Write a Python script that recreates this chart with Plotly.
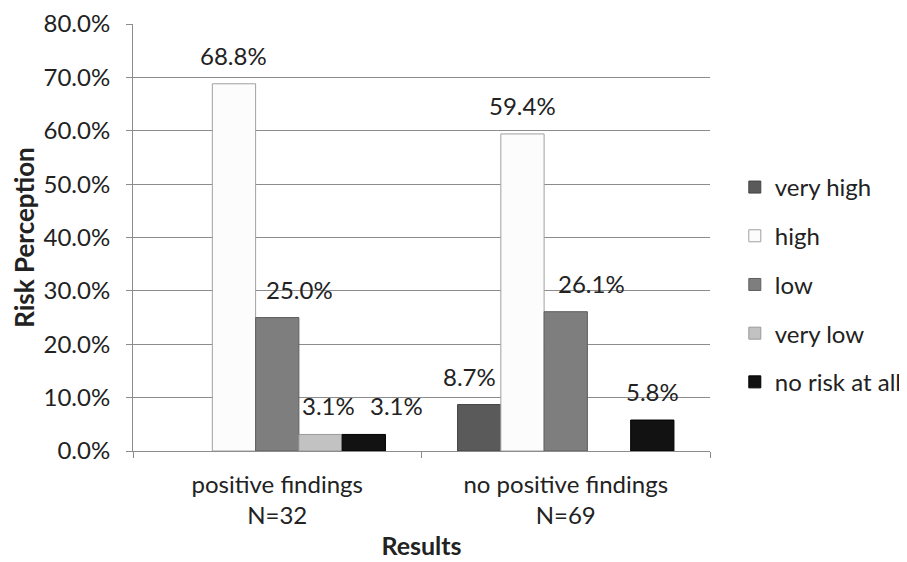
import plotly.graph_objects as go

categories = ["positive findings<br>N=32", "no positive findings<br>N=69"]
series_names = ["very high", "high", "low", "very low", "no risk at all"]
very_high = [0.0, 8.7]
high = [68.8, 59.4]
low = [25.0, 26.1]
very_low = [3.1, 0.0]
no_risk = [3.1, 5.8]
y_ticks = [0, 10, 20, 30, 40, 50, 60, 70, 80]

series_values = [very_high, high, low, very_low, no_risk]
colors = ["#5a5a5a", "#fcfcfc", "#7e7e7e", "#c2c2c2", "#121212"]
line_colors = ["#444444", "#a0a0a0", "#5e5e5e", "#9a9a9a", "#000000"]
# manual label nudges (pixels) as placed in the original
label_dx = [[0, -10], [0, 0], [22, 26], [8, 0], [33, 0]]

FONT = "Lato, 'Open Sans', sans-serif"
TXT = "#222222"
AX = "#8c8c8c"
bargap = 0.25
fig = go.Figure()
for j, (name, vals) in enumerate(zip(series_names, series_values)):
    fig.add_trace(go.Bar(
        x=categories, y=[v / 100 if v > 0 else None for v in vals], name=name,
        marker=dict(color=colors[j], line=dict(color=line_colors[j], width=1)),
        legendgroup=name,
    ))

n = len(series_names)
w = (1 - bargap) / n
annotations = []
for j, vals in enumerate(series_values):
    for i, v in enumerate(vals):
        if v <= 0:
            continue
        xc = i - (1 - bargap) / 2 + (j + 0.5) * w
        annotations.append(dict(
            x=xc, y=v / 100, xref="x", yref="y", text=f"{v:.1f}%",
            showarrow=False, yanchor="bottom", xanchor="center",
            xshift=label_dx[j][i], yshift=12,
            font=dict(family=FONT, size=24, color=TXT),
        ))

# page body adds an 8px margin, so the figure is 899x554 placed at (8, 8)
fig.update_layout(
    width=899, height=554,
    paper_bgcolor="white", plot_bgcolor="white",
    margin=dict(l=125, r=197, t=16, b=111, autoexpand=False),
    barmode="group", bargap=bargap, bargroupgap=0,
    font=dict(family=FONT, size=24, color=TXT),
    annotations=annotations,
    legend=dict(x=1.043, y=0.39, xanchor="left", yanchor="middle",
                font=dict(family=FONT, size=24, color=TXT),
                tracegroupgap=14.5, itemwidth=30),
    showlegend=True,
)
fig.update_yaxes(
    range=[0, 0.8], tickvals=[t / 100 for t in y_ticks],
    ticktext=[f"{t:.1f}%" for t in y_ticks],
    showgrid=True, gridcolor=AX, gridwidth=1,
    showline=True, linecolor=AX, linewidth=1,
    ticks="outside", ticklen=6, tickcolor=AX, ticklabelstandoff=11,
    ticklabeloverflow="allow",
    zeroline=False, automargin=False,
    title=dict(text="<b>Risk Perception</b>", font=dict(family=FONT, size=26, color=TXT), standoff=5),
)
fig.update_xaxes(
    showline=True, linecolor=AX, linewidth=1,
    ticks="outside", ticklen=6, tickcolor=AX, tickson="boundaries",
    ticklabelstandoff=12, automargin=False,
    title=dict(text="<b>Results</b>", font=dict(family=FONT, size=25, color=TXT), standoff=9),
)

fig.write_html("out.html")
